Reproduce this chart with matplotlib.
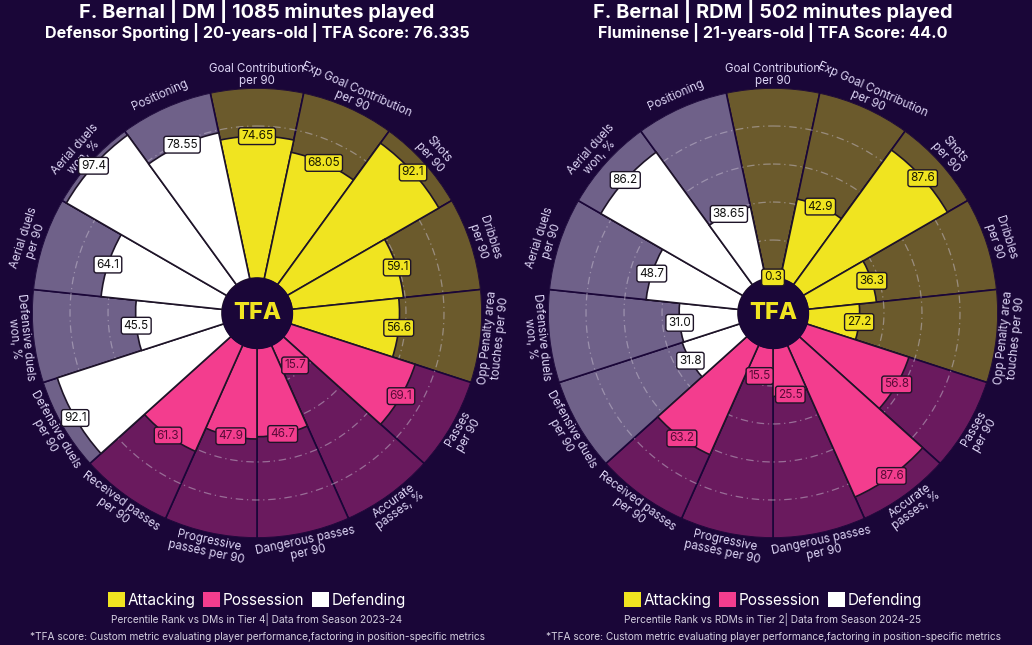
import numpy as np
import matplotlib
matplotlib.use("Agg")
import matplotlib.pyplot as plt
from matplotlib.patches import Patch

plt.rcParams["font.family"] = ["Inter", "DejaVu Sans"]

# ---- data ----
params = ["Goal Contribution\nper 90", "Exp Goal Contribution\nper 90", "Shots\nper 90",
          "Dribbles\nper 90", "Opp Penalty area\ntouches per 90", "Passes\nper 90",
          "Accurate\npasses, %", "Dangerous passes\nper 90", "Progressive\npasses per 90",
          "Received passes\nper 90", "Defensive duels\nper 90", "Defensive duels\nwon, %",
          "Aerial duels\nper 90", "Aerial duels\nwon, %", "Positioning"]
groups = ["att"] * 5 + ["pos"] * 5 + ["def"] * 5

values_left = [74.65, 68.05, 92.1, 59.1, 56.6, 69.1, 15.7, 46.7, 47.9, 61.3,
               92.1, 45.5, 64.1, 97.4, 78.55]
values_right = [0.3, 42.9, 87.6, 36.3, 27.2, 56.8, 87.6, 25.5, 15.5, 63.2,
                31.8, 31.0, 48.7, 86.2, 38.65]

title_left = "F. Bernal | DM | 1085 minutes played"
sub_left = "Defensor Sporting | 20-years-old | TFA Score: 76.335"
foot_left = "Percentile Rank vs DMs in Tier 4| Data from Season 2023-24"
title_right = "F. Bernal | RDM | 502 minutes played"
sub_right = "Fluminense | 21-years-old | TFA Score: 44.0"
foot_right = "Percentile Rank vs RDMs in Tier 2| Data from Season 2024-25"
note = "*TFA score: Custom metric evaluating player performance,factoring in position-specific metrics"

BG = "#1a0638"
slice_col = {"att": "#f0e420", "pos": "#f33d8e", "def": "#ffffff"}
back_col = {"att": "#6b5a2c", "pos": "#6a1a5e", "def": "#6f6189"}
txt_col = {"att": "#1a1a00", "pos": "#5a0a38", "def": "#111111"}
label_col = "#ddd5f5"

HOLE = 18.4

fig = plt.figure(figsize=(10.32, 6.45), dpi=100, facecolor=BG)


def pizza(cx, values, title, sub, foot):
    W, H = 1032, 645
    R = 225
    ax = fig.add_axes([(cx - R) / W, (645 - 313 - R) / H, 2 * R / W, 2 * R / H],
                      projection="polar")
    ax.set_facecolor(BG)
    ax.set_theta_zero_location("N")
    ax.set_theta_direction(-1)
    ax.set_ylim(0, HOLE + 100)
    ax.axis("off")

    n = len(params)
    width = 2 * np.pi / n
    theta = np.arange(n) * width
    cols = [slice_col[g] for g in groups]
    bcols = [back_col[g] for g in groups]

    ax.bar(theta, [100] * n, width=width, bottom=HOLE, color=bcols,
           edgecolor=BG, linewidth=1.2, zorder=1)
    t = np.linspace(0, 2 * np.pi, 400)
    for v in (20, 40, 60, 80):
        ax.plot(t, np.full_like(t, HOLE + v), ls=(0, (6, 3, 1, 3)),
                color="#c8c0d0", lw=0.9, alpha=0.5, zorder=2)
    ax.bar(theta, values, width=width, bottom=HOLE, color=cols,
           edgecolor="#1e1428", linewidth=1.2, zorder=3)
    ax.fill_between(t, 0, HOLE, color=BG, zorder=5)
    ax.text(0, 0, "TFA", ha="center", va="center", color="#f0e420",
            fontsize=17, fontweight="heavy", zorder=6)

    for th, v, g in zip(theta, values, groups):
        ax.text(th, HOLE + v, f"{v}", ha="center", va="center", fontsize=8.5,
                color=txt_col[g], zorder=7,
                bbox=dict(boxstyle="round,pad=0.2", fc=slice_col[g],
                          ec="#1e1428", lw=1))

    for th, p in zip(theta, params):
        a = (90 - np.degrees(th)) % 360
        rot = a - 90 if a <= 180 else a + 90
        ax.text(th, 125.5, p, ha="center", va="center", rotation=rot,
                rotation_mode="anchor", fontsize=8.3, color=label_col,
                linespacing=1.0, clip_on=False)

    fx = cx / W
    fig.text(fx, 1 - 11 / H, title, ha="center", va="center", color="white",
             fontsize=14.4, fontweight="bold")
    fig.text(fx, 1 - 32 / H, sub, ha="center", va="center", color="white",
             fontsize=11.6, fontweight="bold")
    handles = [Patch(fc=slice_col[k], ec="none") for k in ("att", "pos", "def")]
    fig.legend(handles, ["Attacking", "Possession", "Defending"], loc="center",
               bbox_to_anchor=(fx, 1 - 600 / H), ncol=3, frameon=False,
               fontsize=11, labelcolor="white", handlelength=1.1,
               handleheight=1.1, handletextpad=0.2, columnspacing=0.5)
    fig.text(fx, 1 - 619 / H, foot, ha="center", va="center",
             color="#d5d0e0", fontsize=7.3)
    fig.text(fx, 1 - 637 / H, note, ha="center", va="center",
             color="#d5d0e0", fontsize=7.3)


pizza(257, values_left, title_left, sub_left, foot_left)
pizza(773, values_right, title_right, sub_right, foot_right)

fig.savefig("out.png", dpi=100, facecolor=BG)
